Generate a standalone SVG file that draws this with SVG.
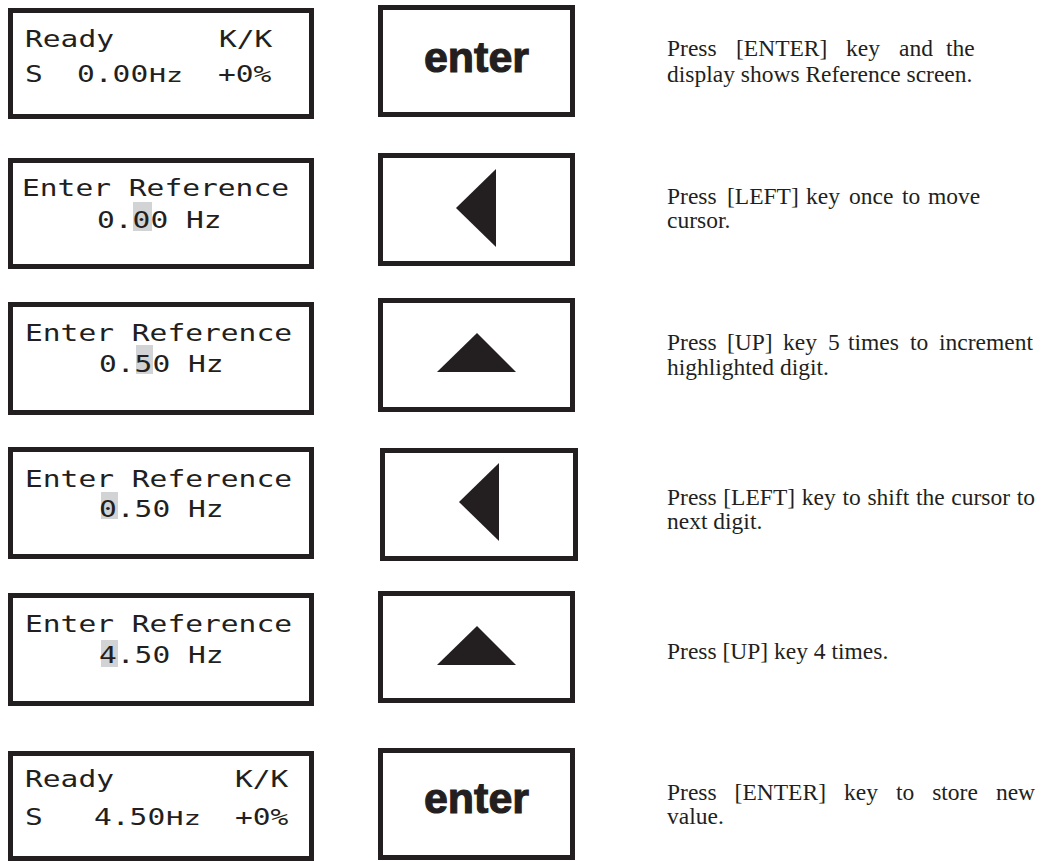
<svg xmlns="http://www.w3.org/2000/svg" width="1041" height="861" viewBox="0 0 1041 861">
  <style>
    .frame { fill: #ffffff; stroke: #231f20; stroke-width: 5; }
    .lcd { font-family: "DejaVu Sans Mono", "Liberation Mono", monospace; font-size: 23px; fill: #231f20; }
    .hz { font-size: 20px; }
    .cursor { fill: #d1d3d4; }
    .key { font-family: "Liberation Sans", Arial, sans-serif; font-weight: bold; font-size: 43px; fill: #231f20; stroke: #231f20; stroke-width: 1.1; text-anchor: middle; }
    .arrow { fill: #231f20; }
    .note { font-family: "Liberation Serif", "Times New Roman", serif; font-size: 23.5px; fill: #231f20; }
  </style>

  <!-- Step 1: ready screen, ENTER key -->
  <g id="display-1">
    <rect class="frame" x="10.5" y="10.5" width="301" height="106"/>
    <text class="lcd" y="47"><tspan x="25" textLength="89" lengthAdjust="spacingAndGlyphs">Ready</tspan></text>
    <text class="lcd" y="47"><tspan x="219" textLength="53.4" lengthAdjust="spacingAndGlyphs">K/K</tspan></text>
    <text class="lcd" y="82"><tspan x="25" textLength="17.8" lengthAdjust="spacingAndGlyphs">S</tspan></text>
    <text class="lcd" y="82"><tspan x="77" textLength="71.2" lengthAdjust="spacingAndGlyphs">0.00</tspan></text>
    <text class="lcd hz" y="82"><tspan x="149" textLength="34" lengthAdjust="spacingAndGlyphs">Hz</tspan></text>
    <text class="lcd" y="82"><tspan x="218" textLength="53.4" lengthAdjust="spacingAndGlyphs">+0%</tspan></text>
  </g>
  <g id="key-1">
    <rect class="frame" x="380.5" y="7.5" width="192" height="107"/>
    <text class="key" x="476.5" y="72">enter</text>
  </g>
  <g id="note-1">
    <text class="note" y="56"><tspan x="667">Press</tspan><tspan x="736">[ENTER]</tspan><tspan x="846">key</tspan><tspan x="899">and</tspan><tspan x="946">the</tspan></text>
    <text class="note" x="667" y="82">display shows Reference screen.</text>
  </g>

  <!-- Step 2: move cursor left -->
  <g id="display-2">
    <rect class="frame" x="10.5" y="160.5" width="301" height="106"/>
    <rect class="cursor" x="133" y="202" width="19" height="29"/>
    <text class="lcd" y="196"><tspan x="22" textLength="267" lengthAdjust="spacingAndGlyphs">Enter Reference</tspan></text>
    <text class="lcd" y="228"><tspan x="97" textLength="124.6" lengthAdjust="spacingAndGlyphs">0.00 Hz</tspan></text>
  </g>
  <g id="key-2">
    <rect class="frame" x="380.5" y="155.5" width="192" height="108"/>
    <polygon class="arrow" points="456,208 496,169 496,247"/>
  </g>
  <g id="note-2">
    <text class="note" y="204"><tspan x="667">Press</tspan><tspan x="727">[LEFT]</tspan><tspan x="806">key</tspan><tspan x="849">once</tspan><tspan x="902">to</tspan><tspan x="928">move</tspan></text>
    <text class="note" x="667" y="228">cursor.</text>
  </g>

  <!-- Step 3: increment digit -->
  <g id="display-3">
    <rect class="frame" x="10.5" y="304.5" width="301" height="108"/>
    <rect class="cursor" x="136" y="345" width="17" height="29"/>
    <text class="lcd" y="341"><tspan x="25" textLength="267" lengthAdjust="spacingAndGlyphs">Enter Reference</tspan></text>
    <text class="lcd" y="372"><tspan x="99" textLength="124.6" lengthAdjust="spacingAndGlyphs">0.50 Hz</tspan></text>
  </g>
  <g id="key-3">
    <rect class="frame" x="380.5" y="300.5" width="192" height="109"/>
    <polygon class="arrow" points="477,333 437,372 516,372"/>
  </g>
  <g id="note-3">
    <text class="note" y="350"><tspan x="667">Press</tspan><tspan x="727">[UP]</tspan><tspan x="783">key</tspan><tspan x="828">5</tspan><tspan x="848">times</tspan><tspan x="910">to</tspan><tspan x="939">increment</tspan></text>
    <text class="note" x="667" y="375">highlighted digit.</text>
  </g>

  <!-- Step 4: shift cursor to next digit -->
  <g id="display-4">
    <rect class="frame" x="10.5" y="449.5" width="301" height="107"/>
    <rect class="cursor" x="101" y="492" width="17" height="27"/>
    <text class="lcd" y="487"><tspan x="25" textLength="267" lengthAdjust="spacingAndGlyphs">Enter Reference</tspan></text>
    <text class="lcd" y="517"><tspan x="99" textLength="124.6" lengthAdjust="spacingAndGlyphs">0.50 Hz</tspan></text>
  </g>
  <g id="key-4">
    <rect class="frame" x="382.5" y="450.5" width="193" height="108"/>
    <polygon class="arrow" points="459,502 499,463 499,541"/>
  </g>
  <g id="note-4">
    <text class="note" y="505"><tspan x="667">Press</tspan><tspan x="723.3">[LEFT]</tspan><tspan x="801.8">key</tspan><tspan x="842.4">to</tspan><tspan x="867.4">shift</tspan><tspan x="915.9">the</tspan><tspan x="951.3">cursor</tspan><tspan x="1016.7">to</tspan></text>
    <text class="note" x="667" y="529">next digit.</text>
  </g>

  <!-- Step 5: increment digit -->
  <g id="display-5">
    <rect class="frame" x="10.5" y="595.5" width="301" height="108"/>
    <rect class="cursor" x="101" y="640" width="17" height="27"/>
    <text class="lcd" y="632"><tspan x="25" textLength="267" lengthAdjust="spacingAndGlyphs">Enter Reference</tspan></text>
    <text class="lcd" y="663"><tspan x="99" textLength="124.6" lengthAdjust="spacingAndGlyphs">4.50 Hz</tspan></text>
  </g>
  <g id="key-5">
    <rect class="frame" x="380.5" y="593.5" width="192" height="107"/>
    <polygon class="arrow" points="477,626 437,665 516,665"/>
  </g>
  <g id="note-5">
    <text class="note" x="667" y="659">Press [UP] key 4 times.</text>
  </g>

  <!-- Step 6: store value -->
  <g id="display-6">
    <rect class="frame" x="10.5" y="753.5" width="301" height="105"/>
    <text class="lcd" y="787"><tspan x="25" textLength="89" lengthAdjust="spacingAndGlyphs">Ready</tspan></text>
    <text class="lcd" y="787"><tspan x="235" textLength="53.4" lengthAdjust="spacingAndGlyphs">K/K</tspan></text>
    <text class="lcd" y="825"><tspan x="25" textLength="17.8" lengthAdjust="spacingAndGlyphs">S</tspan></text>
    <text class="lcd" y="825"><tspan x="94" textLength="71.2" lengthAdjust="spacingAndGlyphs">4.50</tspan></text>
    <text class="lcd hz" y="825"><tspan x="166" textLength="35" lengthAdjust="spacingAndGlyphs">Hz</tspan></text>
    <text class="lcd" y="825"><tspan x="235" textLength="53.4" lengthAdjust="spacingAndGlyphs">+0%</tspan></text>
  </g>
  <g id="key-6">
    <rect class="frame" x="380.5" y="750.5" width="192" height="107"/>
    <text class="key" x="476.5" y="813">enter</text>
  </g>
  <g id="note-6">
    <text class="note" y="800"><tspan x="667">Press</tspan><tspan x="734.6">[ENTER]</tspan><tspan x="844">key</tspan><tspan x="895.9">to</tspan><tspan x="932.2">store</tspan><tspan x="995.9">new</tspan></text>
    <text class="note" x="667" y="824">value.</text>
  </g>
</svg>
